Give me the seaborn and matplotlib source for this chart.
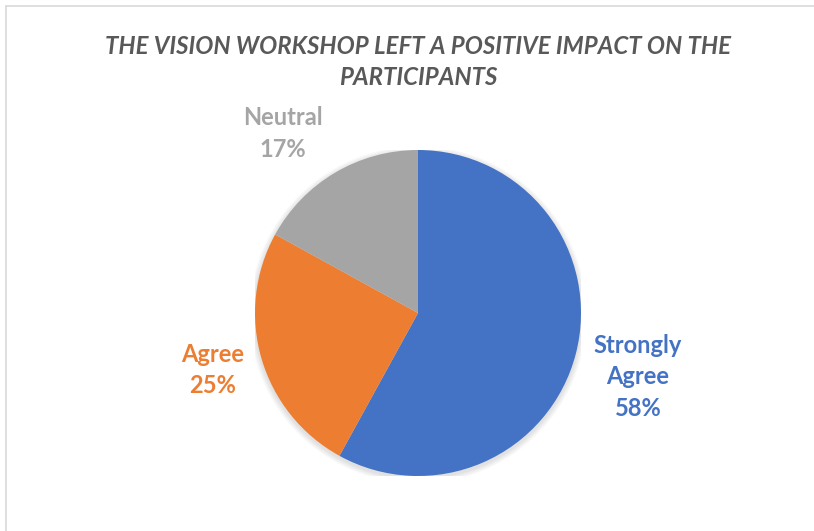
import matplotlib
matplotlib.use("Agg")
import matplotlib.pyplot as plt
import seaborn as sns
import numpy as np
from matplotlib.lines import Line2D
from matplotlib.patches import Circle

categories = ["Strongly\nAgree", "Agree", "Neutral"]
values = [58, 25, 17]
colors = ["#4472C4", "#ED7D31", "#A5A5A5"]
title = "THE VISION WORKSHOP LEFT A POSITIVE IMPACT ON THE\nPARTICIPANTS"

# label positions in pie units (radius = 1), as placed in the original
label_pos = [(1.35, -0.39), (-1.26, -0.35), (-0.83, 1.10)]

sns.set_theme(style="white")
plt.rcParams['font.family'] = ['Lato', 'DejaVu Sans']

W, H = 814, 531
fig = plt.figure(figsize=(W / 100, H / 100), dpi=100)
fig.patch.set_facecolor("white")

# chart frame (only left and top edges are visible in the crop)
fig.add_artist(Line2D([6 / W, 6 / W], [0, 1 - 6 / H], transform=fig.transFigure, color="#D9D9D9", lw=1.2))
fig.add_artist(Line2D([6 / W, 1], [1 - 6 / H, 1 - 6 / H], transform=fig.transFigure, color="#D9D9D9", lw=1.2))

cx, cy, r = 418, 313, 163
ax = fig.add_axes([(cx - r) / W, (H - cy - r) / H, 2 * r / W, 2 * r / H])

# soft shadow under the pie
for i in range(1, 6):
    ax.add_patch(Circle((0, -0.012), 1 + i * 0.007, color="black", alpha=0.025, lw=0, zorder=0))

labels = [f"{c}\n{v}%" for c, v in zip(categories, values)]
wedges, texts = ax.pie(values, colors=colors, startangle=90, counterclock=False,
                       radius=1, labels=labels, labeldistance=1.37,
                       wedgeprops=dict(linewidth=0, zorder=2))
ax.set_xlim(-1, 1)
ax.set_ylim(-1, 1)
ax.axis("off")
for t, c, p in zip(texts, colors, label_pos):
    t.set_position(p)
    t.set_color(c)
    t.set_fontsize(17)
    t.set_fontweight("bold")
    t.set_ha("center")
    t.set_va("center")
    t.set_linespacing(1.45)

fig.text(cx / W, 1 - 62 / H, title, ha="center", va="center", fontsize=17.3,
         fontweight="bold", fontstyle="italic", color="#595959", linespacing=1.45)

fig.savefig("out.png", dpi=100)
